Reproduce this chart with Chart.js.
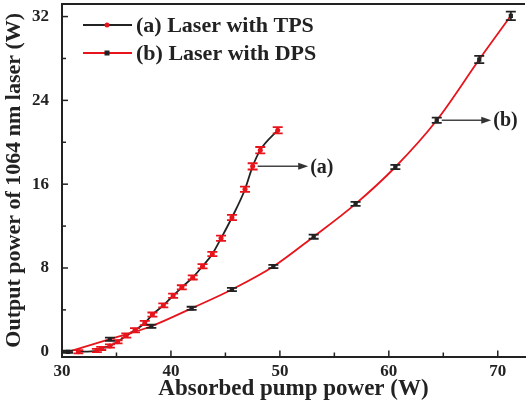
<!DOCTYPE html>
<html>
<head>
<meta charset="utf-8">
<script src="https://cdn.jsdelivr.net/npm/chart.js@4.4.1/dist/chart.umd.min.js"></script>
<style>
  html, body { margin: 0; padding: 0; background: #fff; }
  #wrap { width: 529px; height: 408px; position: relative; }
</style>
</head>
<body>
<div id="wrap"><canvas id="chart"></canvas></div>
<script>
// ==================== DONNEES ====================

// (a) Laser with TPS
const tpsPompe  = [31.5, 33.2, 33.6, 34.4, 35.1, 35.9, 36.7, 37.6, 38.3, 39.3, 40.2, 41.0, 42.0, 42.9, 43.8, 44.6, 45.6, 46.8, 47.5, 48.2, 49.8];
const tpsSortie = [0.0, 0.12, 0.32, 0.55, 0.95, 1.55, 2.06, 2.75, 3.55, 4.43, 5.35, 6.15, 7.1, 8.17, 9.34, 10.83, 12.82, 15.52, 17.7, 19.25, 21.15];
const tpsErreur = [0.15, 0.15, 0.15, 0.15, 0.15, 0.2, 0.2, 0.2, 0.2, 0.2, 0.2, 0.2, 0.2, 0.2, 0.2, 0.25, 0.25, 0.25, 0.3, 0.3, 0.3];

// (b) Laser with DPS
const dpsPompe  = [30.55, 34.4, 38.2, 41.9, 45.6, 49.4, 53.1, 56.95, 60.6, 64.4, 68.3, 71.2];
const dpsSortie = [0.0, 1.2, 2.44, 4.15, 5.95, 8.14, 10.99, 14.12, 17.64, 22.1, 27.9, 32.07];
const dpsErreur = [0.1, 0.15, 0.15, 0.15, 0.15, 0.15, 0.2, 0.2, 0.2, 0.25, 0.35, 0.4];

// graduations
const xTicks  = [30, 35, 40, 45, 50, 55, 60, 65, 70];
const xLabels = [30, 40, 50, 60, 70];
const yTicks  = [0, 4, 8, 12, 16, 20, 24, 28, 32];
const yLabels = [0, 8, 16, 24, 32];

// fleches (a) et (b) : point de depart (indice) et fin en W
const fleches = [
  { serie: 0, indice: 18, finX: 52.6, texte: '(a)' },
  { serie: 1, indice: 9, finX: 69.4, texte: '(b)' }
];

const ROUGE = '#e8141c';
const NOIR = '#222222';
const POLICE = "'Liberation Serif', 'Times New Roman', serif";

// ==================== PLUGINS ====================

const cadrePlugin = {
  id: 'cadre',
  afterDraw(chart) {
    const { ctx, chartArea: a, scales: { x, y } } = chart;
    ctx.save();
    ctx.strokeStyle = NOIR;
    ctx.lineWidth = 2;
    // bord du haut
    ctx.beginPath();
    ctx.moveTo(a.left - 1, a.top);
    ctx.lineTo(a.right, a.top);
    ctx.stroke();
    // graduations vers l'interieur
    ctx.lineWidth = 1.5;
    xTicks.forEach(v => {
      const px = x.getPixelForValue(v);
      const len = xLabels.includes(v) ? 6 : 4;
      ctx.beginPath();
      ctx.moveTo(px, a.bottom);
      ctx.lineTo(px, a.bottom - len);
      ctx.stroke();
    });
    yTicks.forEach(v => {
      const py = y.getPixelForValue(v);
      const len = yLabels.includes(v) ? 6 : 4;
      ctx.beginPath();
      ctx.moveTo(a.left, py);
      ctx.lineTo(a.left + len, py);
      ctx.stroke();
    });
    // etiquettes de l'axe x
    ctx.fillStyle = NOIR;
    ctx.font = 'bold 17px ' + POLICE;
    ctx.textAlign = 'center';
    ctx.textBaseline = 'middle';
    xLabels.forEach(v => {
      ctx.fillText(String(v), x.getPixelForValue(v), a.bottom + 15);
    });
    ctx.restore();
  }
};

const erreurPlugin = {
  id: 'erreurs',
  afterDatasetsDraw(chart) {
    const { ctx, scales: { x, y } } = chart;
    ctx.save();
    chart.data.datasets.forEach(ds => {
      ctx.strokeStyle = ds.errColor;
      ctx.lineWidth = 1.8;
      ds.data.forEach((p, i) => {
        const px = x.getPixelForValue(p.x);
        const haut = y.getPixelForValue(p.y + ds.err[i]);
        const bas = y.getPixelForValue(p.y - ds.err[i]);
        ctx.beginPath();
        ctx.moveTo(px, haut); ctx.lineTo(px, bas);
        ctx.moveTo(px - 5, haut); ctx.lineTo(px + 5, haut);
        ctx.moveTo(px - 5, bas); ctx.lineTo(px + 5, bas);
        ctx.stroke();
      });
    });
    ctx.restore();
  }
};

const flechePlugin = {
  id: 'fleches',
  afterDraw(chart) {
    const { ctx, scales: { x, y } } = chart;
    ctx.save();
    fleches.forEach(f => {
      const p = chart.data.datasets[f.serie].data[f.indice];
      const x0 = x.getPixelForValue(p.x) + 5;
      const x1 = x.getPixelForValue(f.finX);
      const py = y.getPixelForValue(p.y);
      ctx.strokeStyle = '#444';
      ctx.fillStyle = '#333';
      ctx.lineWidth = 1.5;
      ctx.beginPath();
      ctx.moveTo(x0, py); ctx.lineTo(x1 - 8, py);
      ctx.stroke();
      ctx.beginPath();
      ctx.moveTo(x1, py); ctx.lineTo(x1 - 10, py - 3.5); ctx.lineTo(x1 - 10, py + 3.5);
      ctx.closePath();
      ctx.fill();
      ctx.fillStyle = NOIR;
      ctx.font = 'bold 20px ' + POLICE;
      ctx.textBaseline = 'middle';
      ctx.textAlign = 'left';
      ctx.fillText(f.texte, x1 + 2, py + 1);
    });
    ctx.restore();
  }
};

const legendePlugin = {
  id: 'legende',
  afterDraw(chart) {
    const { ctx } = chart;
    ctx.save();
    chart.data.datasets.forEach((ds, i) => {
      const ly = 25 + i * 28;
      ctx.strokeStyle = ds.borderColor;
      ctx.lineWidth = 1.8;
      ctx.beginPath();
      ctx.moveTo(83, ly); ctx.lineTo(132, ly);
      ctx.stroke();
      ctx.fillStyle = ds.pointBackgroundColor;
      if (ds.pointStyle === 'rect') {
        ctx.fillRect(104.5, ly - 2.5, 5, 5);
      } else {
        ctx.beginPath();
        ctx.arc(107, ly, 2.5, 0, Math.PI * 2);
        ctx.fill();
      }
      ctx.fillStyle = NOIR;
      ctx.font = 'bold 22px ' + POLICE;
      ctx.textBaseline = 'middle';
      ctx.textAlign = 'left';
      ctx.fillText(ds.label, 136, ly + 1);
    });
    ctx.restore();
  }
};

// enlever le rembourrage automatique des axes
function sansMarge(s) {
  s.paddingTop = 0; s.paddingBottom = 0;
  s.paddingLeft = 0; s.paddingRight = 0;
}

// ==================== GRAPHIQUE ====================

const ctx = document.getElementById('chart').getContext('2d');
new Chart(ctx, {
  type: 'line',
  data: {
    datasets: [
      {
        label: '(a) Laser with TPS',
        data: tpsPompe.map((v, i) => ({ x: v, y: tpsSortie[i] })),
        err: tpsErreur,
        errColor: ROUGE,
        borderColor: NOIR,
        borderWidth: 1.8,
        pointStyle: 'circle',
        pointRadius: 2.5,
        pointBackgroundColor: ROUGE,
        pointBorderWidth: 0,
        cubicInterpolationMode: 'monotone'
      },
      {
        label: '(b) Laser with DPS',
        data: dpsPompe.map((v, i) => ({ x: v, y: dpsSortie[i] })),
        err: dpsErreur,
        errColor: NOIR,
        borderColor: ROUGE,
        borderWidth: 1.8,
        pointStyle: 'rect',
        pointRadius: 3,
        pointBackgroundColor: NOIR,
        pointBorderWidth: 0,
        cubicInterpolationMode: 'monotone'
      }
    ]
  },
  options: {
    responsive: true,
    maintainAspectRatio: false,
    animation: false,
    layout: { padding: { top: 2, right: 0, left: 0, bottom: 0 } },
    plugins: { legend: { display: false }, tooltip: { enabled: false } },
    scales: {
      x: {
        type: 'linear',
        min: 30,
        max: 72.5,
        afterBuildTicks: s => { s.ticks = xTicks.map(v => ({ value: v })); },
        afterFit: s => { s.height = 51.5; sansMarge(s); },
        grid: { display: false },
        border: { display: true, color: NOIR, width: 2 },
        ticks: { display: false },
        title: {
          display: true,
          text: 'Absorbed pump power (W)',
          color: NOIR,
          font: { family: POLICE, size: 23, weight: 'bold' },
          padding: { top: 0, bottom: 5 }
        }
      },
      y: {
        type: 'linear',
        min: -0.45,
        max: 33.2,
        afterBuildTicks: s => { s.ticks = yTicks.map(v => ({ value: v })); },
        afterFit: s => { s.width = 62; sansMarge(s); },
        grid: { display: false },
        border: { display: true, color: NOIR, width: 2 },
        ticks: {
          padding: 5,
          color: NOIR,
          autoSkip: false,
          font: { family: POLICE, size: 17, weight: 'bold' },
          callback: v => yLabels.includes(v) ? v : ''
        },
        title: {
          display: true,
          text: 'Output power of 1064 nm laser (W)',
          color: NOIR,
          font: { family: POLICE, size: 22, weight: 'bold' },
          padding: { top: 1, bottom: 0 }
        }
      }
    }
  },
  plugins: [cadrePlugin, erreurPlugin, flechePlugin, legendePlugin]
});
</script>
</body>
</html>
